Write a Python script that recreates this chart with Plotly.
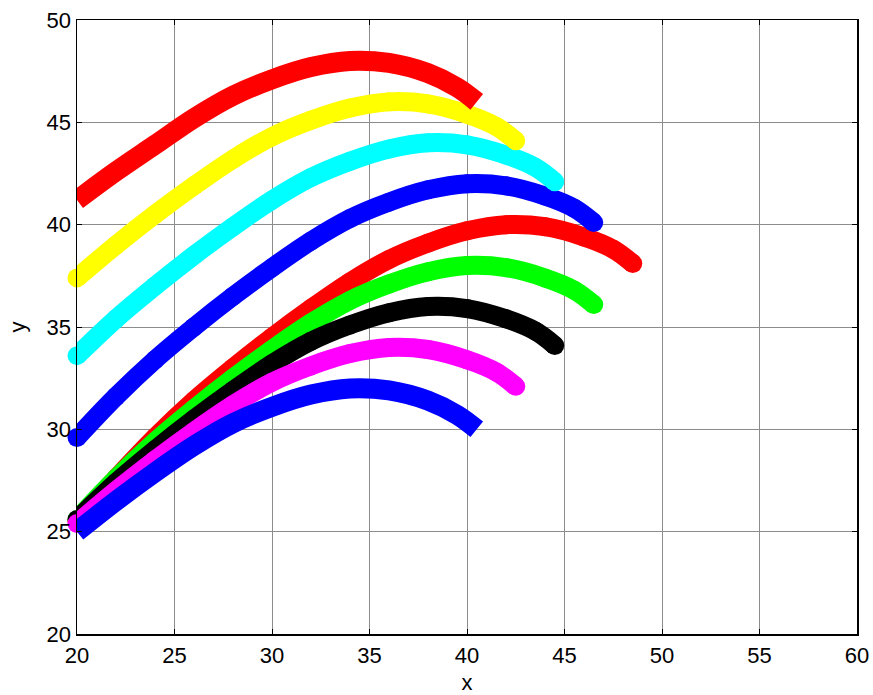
import plotly.graph_objects as go

# ---- data ----
x_red_low = [20, 22, 24, 26, 28, 30, 32, 34, 36, 38, 40, 42, 44, 46, 47.5, 48.5]
y_red_low = [25.5, 27.6, 29.6, 31.4, 33.0, 34.5, 35.9, 37.2, 38.3, 39.1, 39.7, 40.0, 39.9, 39.4, 38.8, 38.1]

x_blue_circ = [20, 22, 24, 26, 28, 30, 32, 34, 36, 38, 40, 42, 44, 45.5, 46.5]
y_blue_circ = [29.6, 31.6, 33.4, 35.0, 36.5, 37.9, 39.2, 40.3, 41.1, 41.7, 42.0, 41.9, 41.4, 40.8, 40.1]

x_green = [20, 22, 24, 26, 28, 30, 32, 34, 36, 38, 40, 42, 44, 45.5, 46.5]
y_green = [25.6, 27.6, 29.4, 31.0, 32.5, 33.9, 35.2, 36.3, 37.1, 37.7, 38.0, 37.9, 37.4, 36.8, 36.1]

x_cyan = [20, 22, 24, 26, 28, 30, 32, 34, 36, 38, 40, 42, 43.5, 44.5]
y_cyan = [33.6, 35.4, 37.0, 38.5, 39.9, 41.2, 42.3, 43.1, 43.7, 44.0, 43.9, 43.4, 42.8, 42.1]

x_black = [20, 22, 24, 26, 28, 30, 32, 34, 36, 38, 40, 42, 43.5, 44.5]
y_black = [25.6, 27.4, 29.0, 30.5, 31.9, 33.2, 34.3, 35.1, 35.7, 36.0, 35.9, 35.4, 34.8, 34.1]

x_yellow = [20, 22, 24, 26, 28, 30, 32, 34, 36, 38, 40, 41.5, 42.5]
y_yellow = [37.4, 39.0, 40.5, 41.9, 43.2, 44.3, 45.1, 45.7, 46.0, 45.9, 45.4, 44.8, 44.1]

x_magenta = [20, 22, 24, 26, 28, 30, 32, 34, 36, 38, 40, 41.5, 42.5]
y_magenta = [25.4, 27.0, 28.5, 29.9, 31.2, 32.3, 33.1, 33.7, 34.0, 33.9, 33.4, 32.8, 32.1]

x_red_top = [20, 22, 24, 26, 28, 30, 32, 34, 36, 38, 39.5, 40.5]
y_red_top = [41.2, 42.6, 43.9, 45.2, 46.3, 47.1, 47.7, 48.0, 47.9, 47.4, 46.7, 46.0]

x_blue_low = [20, 22, 24, 26, 28, 30, 32, 34, 36, 38, 39.5, 40.5]
y_blue_low = [25.0, 26.5, 27.9, 29.2, 30.3, 31.1, 31.7, 32.0, 31.9, 31.4, 30.7, 30.0]

x_ticks = [20, 25, 30, 35, 40, 45, 50, 55, 60]
y_ticks = [20, 25, 30, 35, 40, 45, 50]

series = [
    (x_red_low, y_red_low, "#ff0000", "circle"),
    (x_blue_circ, y_blue_circ, "#0000ff", "circle"),
    (x_green, y_green, "#00ff00", "circle"),
    (x_cyan, y_cyan, "#00ffff", "circle"),
    (x_black, y_black, "#000000", "circle"),
    (x_yellow, y_yellow, "#ffff00", "circle"),
    (x_magenta, y_magenta, "#ff00ff", "circle"),
    (x_red_top, y_red_top, "#ff0000", "diamond"),
    (x_blue_low, y_blue_low, "#0000ff", "diamond"),
]

fig = go.Figure()
for xs, ys, col, sym in series:
    if sym == "circle":
        fig.add_trace(go.Scatter(
            x=xs, y=ys, mode="lines+markers",
            line=dict(color=col, width=19, shape="spline", smoothing=1.0),
            marker=dict(symbol="circle", size=19, color=col, line=dict(width=0)),
            cliponaxis=False, showlegend=False, hoverinfo="skip",
        ))
    else:
        fig.add_trace(go.Scatter(
            x=xs, y=ys, mode="lines",
            line=dict(color=col, width=20, shape="spline", smoothing=1.0),
            cliponaxis=False, showlegend=False, hoverinfo="skip",
        ))

FONT = "Liberation Sans, Arial, sans-serif"
axis_common = dict(
    showgrid=True, gridcolor="#8c8c8c", gridwidth=1,
    showline=True, linecolor="black", linewidth=1.5, mirror="ticks",
    ticks="inside", ticklen=5, tickcolor="black", tickwidth=1,
    zeroline=False, automargin=False,
    tickfont=dict(family=FONT, size=22, color="black"),
)

fig.update_xaxes(range=[20, 60], tickvals=x_ticks, ticklabelstandoff=1,
                 title=dict(text="x", font=dict(family=FONT, size=22, color="black"), standoff=7),
                 **axis_common)
fig.update_yaxes(range=[20, 50], tickvals=y_ticks,
                 title=dict(text="y", font=dict(family=FONT, size=22, color="black"), standoff=15),
                 **axis_common)

fig.update_layout(
    width=873, height=695,
    margin=dict(l=77, r=16, t=20, b=61),
    paper_bgcolor="white", plot_bgcolor="white",
)

# remove the browser's default 8px body margin so the figure fills the window
fig.write_html("out.html",
               config={"displayModeBar": False, "staticPlot": True},
               post_script="document.body.style.margin='0';document.body.style.overflow='hidden';")
